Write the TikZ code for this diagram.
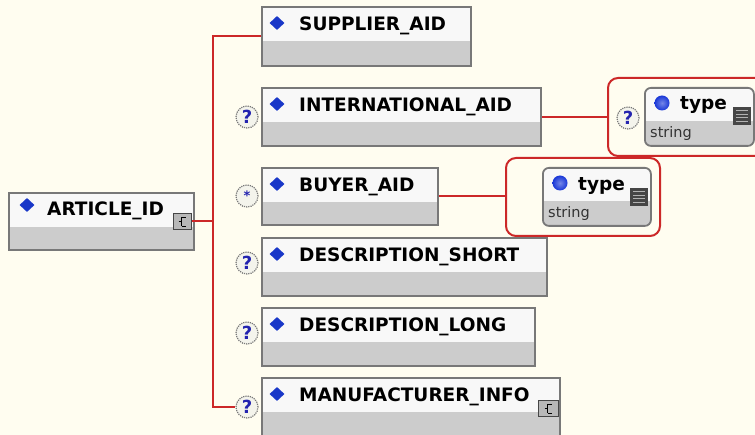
\documentclass[tikz,border=0pt]{standalone}
\usepackage{fontspec}
\setmainfont{DejaVu Sans}
\usetikzlibrary{shapes.geometric}
\definecolor{bgc}{RGB}{255,253,240}
\definecolor{boxline}{RGB}{120,120,120}
\definecolor{boxgray}{RGB}{204,204,204}
\definecolor{boxhead}{RGB}{248,248,248}
\definecolor{conred}{RGB}{204,40,40}
\definecolor{diablue}{RGB}{25,55,200}
\definecolor{ballblue}{RGB}{25,55,215}
\definecolor{qblue}{RGB}{35,35,175}
\definecolor{qfill}{RGB}{244,244,236}
\definecolor{icondark}{RGB}{70,70,70}
\definecolor{strcol}{RGB}{50,50,50}
\tikzset{
  elem/.style={draw=boxline, line width=1.8pt, fill=boxhead, anchor=north west, inner sep=0pt,
    path picture={\fill[boxgray, sharp corners] ([yshift=-34pt]path picture bounding box.north west) rectangle (path picture bounding box.south east);}},
  tbox/.style={draw=boxline, line width=1.8pt, fill=boxhead, anchor=north west, inner sep=0pt, rounded corners=6pt,
    path picture={\fill[boxgray, sharp corners] ([yshift=-33pt]path picture bounding box.north west) rectangle (path picture bounding box.south east);}},
  grp/.style={draw=conred, line width=2pt, rounded corners=10pt, anchor=north west, inner sep=0pt},
  elname/.style={anchor=base west, inner sep=0pt, font=\bfseries\fontsize{18.5}{22}\selectfont},
  diam/.style={diamond, fill=diablue, minimum width=15pt, minimum height=14pt, inner sep=0pt},
  qicon/.style={circle, draw=boxline, densely dotted, line width=1.2pt, fill=qfill, minimum size=22pt, inner sep=0pt,
    text=qblue, font=\bfseries\fontsize{18}{18}\selectfont},
  conn/.style={draw=conred, line width=2pt},
  bball/.style={circle, inner color=ballblue!60!white, outer color=ballblue, minimum size=15pt, inner sep=0pt},
  strtext/.style={anchor=base west, inner sep=0pt, text=strcol, font=\fontsize{14.5}{16}\selectfont},
  licon/.style={fill=icondark, minimum width=18pt, minimum height=18pt, inner sep=0pt,
    path picture={\foreach \k in {1,2,3,4}{\draw[gray!60!white, line width=1.2pt] ([xshift=3pt,yshift=-\k*3.6pt]path picture bounding box.north west) -- ([xshift=-3pt,yshift=-\k*3.6pt]path picture bounding box.north east);}}},
  cicon/.style={draw=icondark, line width=0.8pt, fill=boxgray!90!black, minimum width=18pt, minimum height=16pt, inner sep=0pt,
    path picture={\draw[black, line width=0.9pt] ([xshift=-1pt,yshift=4pt]path picture bounding box.center) -- ([xshift=-1pt,yshift=-5pt]path picture bounding box.center)
      ([xshift=-4pt,yshift=0pt]path picture bounding box.center) -- ([xshift=-1pt,yshift=0pt]path picture bounding box.center)
      ([xshift=-1pt,yshift=4pt]path picture bounding box.center) -- ([xshift=3pt,yshift=4pt]path picture bounding box.center)
      ([xshift=-1pt,yshift=-5pt]path picture bounding box.center) -- ([xshift=3pt,yshift=-5pt]path picture bounding box.center);}}
}
\begin{document}
\begin{tikzpicture}[x=1pt, y=-1pt]
\useasboundingbox (0,0) rectangle (755,435);
\clip (0,0) rectangle (755,435);
\fill[bgc] (0,0) rectangle (755,435);
\coordinate (vline) at (213,0);

% root element
\node[elem, minimum width=185pt, minimum height=57pt] (art) at (8,192) {};
\node[diam] (artD) at ([xshift=19pt,yshift=-13pt]art.north west) {};
\node[elname] (artT) at ([xshift=39pt,yshift=-24pt]art.north west) {ARTICLE\_ID};
\node[cicon] (artC) at (182.5,221.5) {};

% children
\node[elem, minimum width=209pt, minimum height=59pt] (sup) at (261,6) {};
\node[diam] (supD) at ([xshift=16pt,yshift=-17pt]sup.north west) {};
\node[elname] (supT) at ([xshift=38pt,yshift=-25pt]sup.north west) {SUPPLIER\_AID};

\node[elem, minimum width=279pt, minimum height=58pt] (intl) at (261,87) {};
\node[diam] (intlD) at ([xshift=16pt,yshift=-17pt]intl.north west) {};
\node[elname] (intlT) at ([xshift=38pt,yshift=-25pt]intl.north west) {INTERNATIONAL\_AID};
\node[qicon] (intlQ) at (247,117) {?};

\node[elem, minimum width=176pt, minimum height=57pt] (buyer) at (261,167) {};
\node[diam] (buyerD) at ([xshift=16pt,yshift=-17pt]buyer.north west) {};
\node[elname] (buyerT) at ([xshift=38pt,yshift=-25pt]buyer.north west) {BUYER\_AID};
\node[qicon, font=\bfseries\fontsize{13}{13}\selectfont] (buyerQ) at (247,196) {*};

\node[elem, minimum width=285pt, minimum height=58pt] (ds) at (261,237) {};
\node[diam] (dsD) at ([xshift=16pt,yshift=-17pt]ds.north west) {};
\node[elname] (dsT) at ([xshift=38pt,yshift=-25pt]ds.north west) {DESCRIPTION\_SHORT};
\node[qicon] (dsQ) at (247,263) {?};

\node[elem, minimum width=273pt, minimum height=58pt] (dl) at (261,307) {};
\node[diam] (dlD) at ([xshift=16pt,yshift=-17pt]dl.north west) {};
\node[elname] (dlT) at ([xshift=38pt,yshift=-25pt]dl.north west) {DESCRIPTION\_LONG};
\node[qicon] (dlQ) at (247,333) {?};

\node[elem, minimum width=298pt, minimum height=64pt] (mf) at (261,377) {};
\node[diam] (mfD) at ([xshift=16pt,yshift=-17pt]mf.north west) {};
\node[elname] (mfT) at ([xshift=38pt,yshift=-25pt]mf.north west) {MANUFACTURER\_INFO};
\node[qicon] (mfQ) at (247,407) {?};
\node[cicon, minimum width=20pt] (mfC) at (548.5,408.5) {};

% attribute groups
\node[grp, minimum width=170pt, minimum height=78pt] (grp1) at (607,77) {};
\node[qicon] (g1Q) at (628,118) {?};
\node[tbox, minimum width=109pt, minimum height=58pt] (typ1) at (644,87) {};
\node[bball] (typ1B) at ([xshift=18pt,yshift=-16pt]typ1.north west) {};
\node[elname] (typ1T) at ([xshift=36pt,yshift=-23pt]typ1.north west) {type};
\node[licon] (typ1L) at ([xshift=98pt,yshift=-29pt]typ1.north west) {};
\node[strtext] (typ1S) at ([xshift=6pt,yshift=-51pt]typ1.north west) {string};

\node[grp, minimum width=154pt, minimum height=78pt] (grp2) at (505,157) {};
\node[tbox, minimum width=108pt, minimum height=58pt] (typ2) at (542,167) {};
\node[bball] (typ2B) at ([xshift=18pt,yshift=-16pt]typ2.north west) {};
\node[elname] (typ2T) at ([xshift=36pt,yshift=-24pt]typ2.north west) {type};
\node[licon] (typ2L) at ([xshift=97pt,yshift=-30pt]typ2.north west) {};
\node[strtext] (typ2S) at ([xshift=6pt,yshift=-51pt]typ2.north west) {string};

% connectors
\draw[conn] (artC.east) -- (artC.east -| vline);
\draw[conn] (sup.west) -- (sup.west -| vline) |- (mfQ.west);
\draw[conn] (intl.east) -- (intl.east -| grp1.west);
\draw[conn] (buyer.east) -- (buyer.east -| grp2.west);
\end{tikzpicture}
\end{document}
